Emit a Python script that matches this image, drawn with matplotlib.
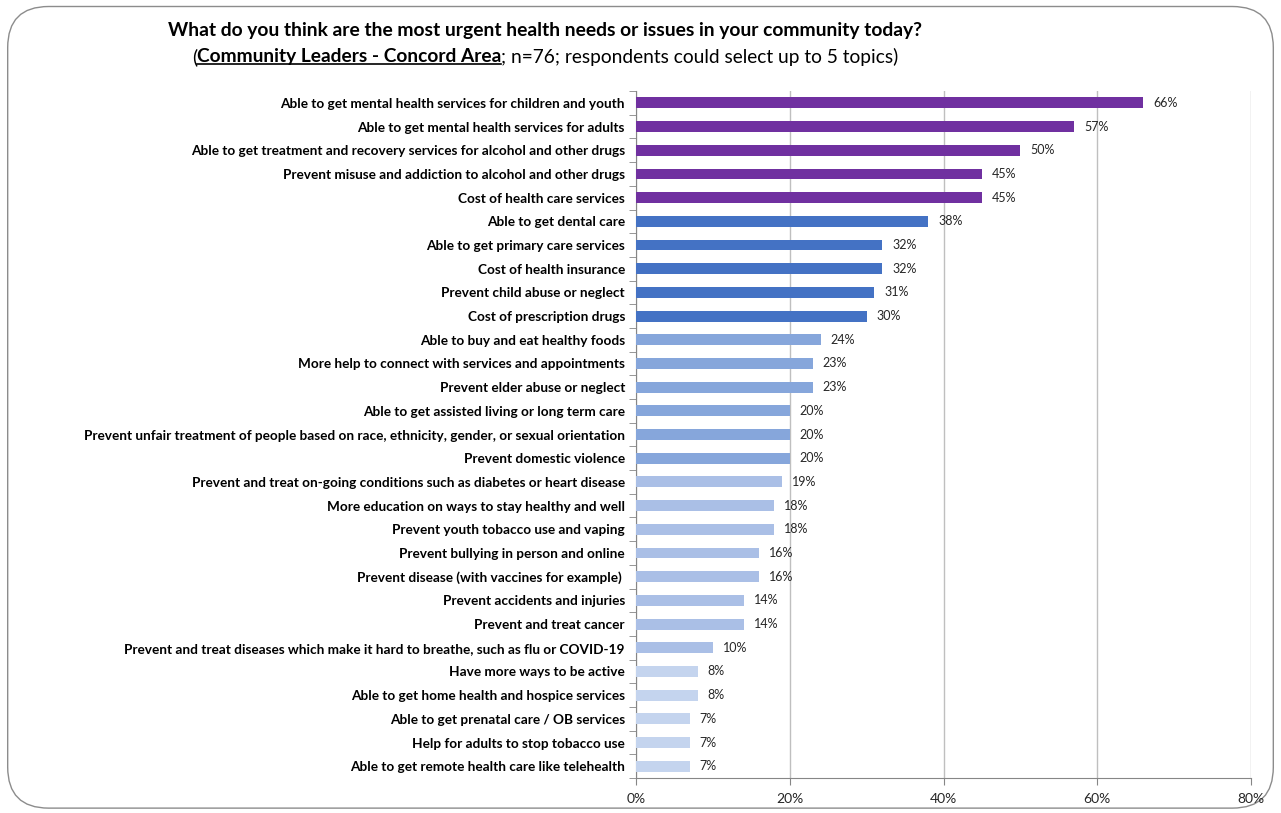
import matplotlib
matplotlib.use("Agg")
import matplotlib.pyplot as plt
from matplotlib.patches import FancyBboxPatch
from matplotlib.ticker import FixedLocator, PercentFormatter

plt.rcParams['font.family'] = ['Lato', 'DejaVu Sans']

# Survey results, top to bottom
topics = [
    "Able to get mental health services for children and youth",
    "Able to get mental health services for adults",
    "Able to get treatment and recovery services for alcohol and other drugs",
    "Prevent misuse and addiction to alcohol and other drugs",
    "Cost of health care services",
    "Able to get dental care",
    "Able to get primary care services",
    "Cost of health insurance",
    "Prevent child abuse or neglect",
    "Cost of prescription drugs",
    "Able to buy and eat healthy foods",
    "More help to connect with services and appointments",
    "Prevent elder abuse or neglect",
    "Able to get assisted living or long term care",
    "Prevent unfair treatment of people based on race, ethnicity, gender, or sexual orientation",
    "Prevent domestic violence",
    "Prevent and treat on-going conditions such as diabetes or heart disease",
    "More education on ways to stay healthy and well",
    "Prevent youth tobacco use and vaping",
    "Prevent bullying in person and online",
    "Prevent disease (with vaccines for example) ",
    "Prevent accidents and injuries",
    "Prevent and treat cancer",
    "Prevent and treat diseases which make it hard to breathe, such as flu or COVID-19",
    "Have more ways to be active",
    "Able to get home health and hospice services",
    "Able to get prenatal care / OB services",
    "Help for adults to stop tobacco use",
    "Able to get remote health care like telehealth",
]
percents = [66, 57, 50, 45, 45, 38, 32, 32, 31, 30, 24, 23, 23, 20, 20, 20,
            19, 18, 18, 16, 16, 14, 14, 10, 8, 8, 7, 7, 7]
# colour tier of each bar
tiers = [0] * 5 + [1] * 5 + [2] * 6 + [3] * 8 + [4] * 5
tier_colors = ["#7030A0", "#4472C4", "#86A6DB", "#AABFE6", "#C4D4EE"]

fig = plt.figure(figsize=(12.81, 8.13), dpi=100)

# rounded frame around the whole chart
frame = FancyBboxPatch((0.006, 0.006), 0.988, 0.986,
                       boxstyle="round,pad=0,rounding_size=0.032",
                       transform=fig.transFigure, facecolor="none",
                       edgecolor="#8c8c8c", linewidth=1.0,
                       mutation_aspect=1.58, zorder=-1)
fig.patches.append(frame)

ax = fig.add_axes([0.4965, 0.043, 0.4801, 0.845])
n = len(topics)
ypos = list(range(n))
ax.barh(ypos, percents, height=0.46, color=[tier_colors[t] for t in tiers],
        zorder=3)
for y, v in zip(ypos, percents):
    ax.text(v + 1.3, y, f"{v}%", va="center", ha="left", fontsize=9,
            color="#262626", zorder=4)

ax.set_ylim(n - 0.5, -0.5)
ax.set_xlim(0, 80)
ax.xaxis.set_major_locator(FixedLocator([0, 20, 40, 60, 80]))
ax.xaxis.set_major_formatter(PercentFormatter(decimals=0))
ax.set_yticks(ypos)
ax.set_yticklabels(topics, fontsize=9.8, fontweight="bold", color="#000000")
ax.yaxis.set_minor_locator(FixedLocator([i - 0.5 for i in range(n + 1)]))
ax.tick_params(axis="y", which="major", length=0, pad=8)
ax.tick_params(axis="y", which="minor", length=5, color="#868686")
ax.tick_params(axis="x", length=5, color="#868686", labelsize=10,
               labelcolor="#262626", pad=6)
ax.grid(axis="x", color="#bfbfbf", linewidth=1, zorder=0)
for side in ("top", "right"):
    ax.spines[side].set_visible(False)
for side in ("left", "bottom"):
    ax.spines[side].set_color("#868686")

# title
fig.text(0.4255, 0.962, "What do you think are the most urgent health needs or issues in your community today?",
         ha="center", va="center", fontsize=13.9, fontweight="bold", color="#000000")

# subtitle with an underlined bold part
renderer = fig.canvas.get_renderer()
parts = [("(", "normal", False),
         ("Community Leaders - Concord Area", "bold", True),
         ("; n=76; respondents could select up to 5 topics)", "normal", False)]
sub_y = 0.930
texts = []
x = 0.0
for s, w, u in parts:
    t = fig.text(x, sub_y, s, ha="left", va="center", fontsize=13.8,
                 fontweight=w, color="#000000")
    bb = t.get_window_extent(renderer).transformed(fig.transFigure.inverted())
    texts.append((t, bb, u))
    x += bb.width
shift = 0.4255 - x / 2
for t, bb, u in texts:
    t.set_x(t.get_position()[0] + shift)
    if u:
        fig.add_artist(plt.Line2D([bb.x0 + shift, bb.x1 + shift],
                                  [bb.y0 + 0.002, bb.y0 + 0.002],
                                  transform=fig.transFigure, color="#000000",
                                  linewidth=1.2))

fig.savefig("out.png", dpi=100)
